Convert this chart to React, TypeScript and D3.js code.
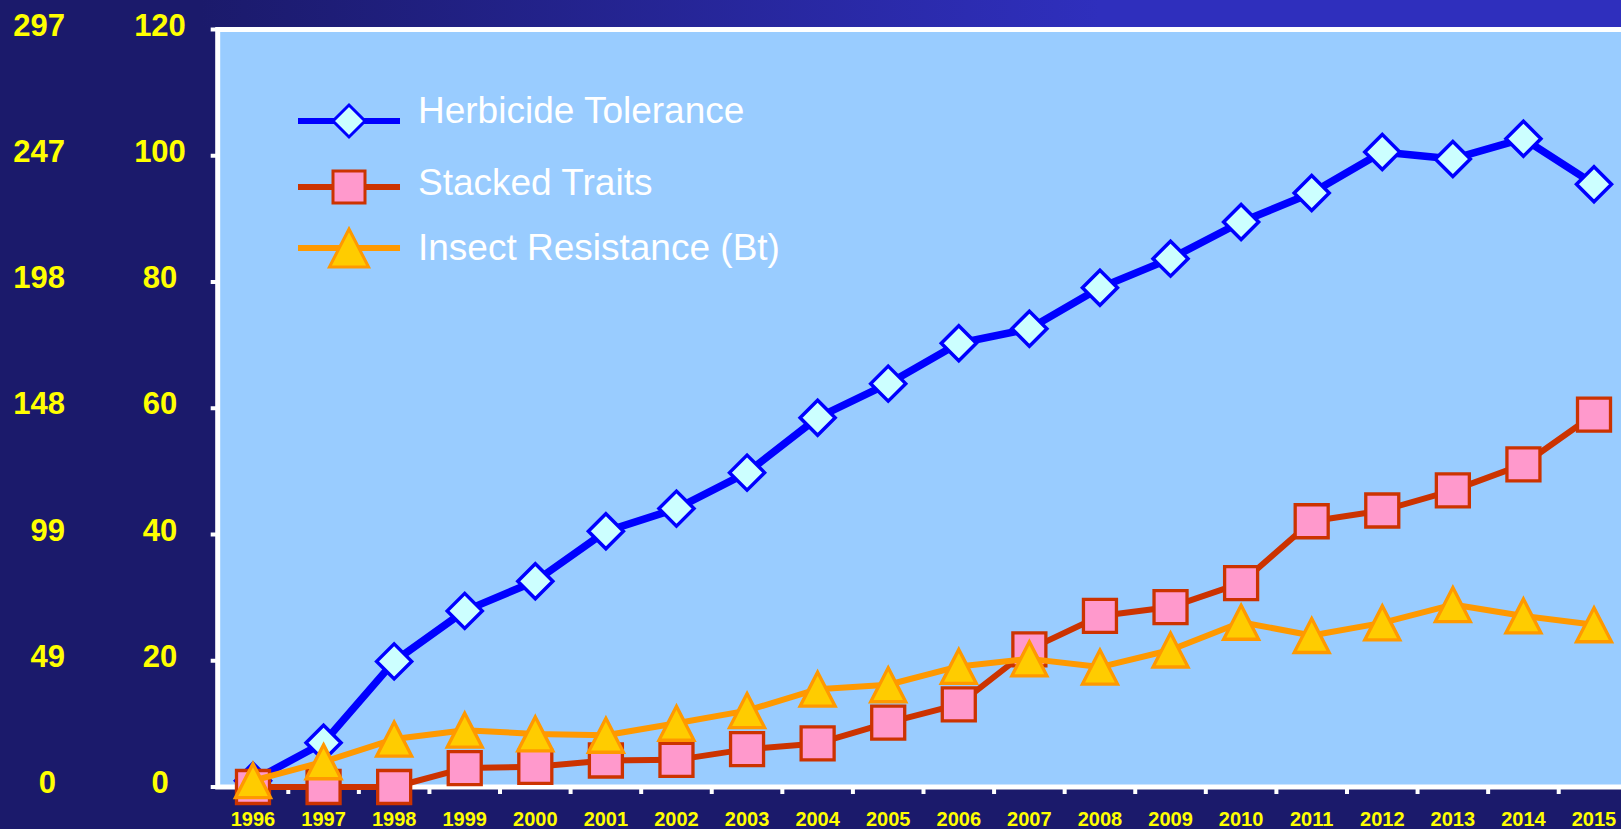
import React, { useEffect, useRef } from 'react';
import * as d3 from 'd3';

// years on the x axis
const years = ['1996', '1997', '1998', '1999', '2000', '2001', '2002', '2003', '2004', '2005',
  '2006', '2007', '2008', '2009', '2010', '2011', '2012', '2013', '2014', '2015'];

// million acres
const herbicideTolerance = [1.0, 7.0, 19.9, 27.9, 32.6, 40.5, 44.1, 49.8, 58.5, 63.9,
  70.3, 72.6, 79.1, 83.7, 89.5, 94.1, 100.6, 99.5, 102.7, 95.5];
const stackedTraits = [0, 0, 0, 3.0, 3.2, 4.2, 4.3, 6.0, 6.9, 10.2,
  13.1, 21.8, 27.1, 28.5, 32.3, 42.1, 43.8, 47.0, 51.1, 59.0];
const insectResistance = [1.0, 4.0, 7.6, 9.0, 8.4, 8.2, 10.1, 12.1, 15.5, 16.2,
  19.1, 20.3, 19.0, 21.7, 26.1, 24.0, 26.0, 28.9, 27.1, 25.7];

// two label columns: hectares (left) and acres (right)
const yTicks = [0, 20, 40, 60, 80, 100, 120];
const outerLabels = ['0', '49', '99', '148', '198', '247', '297'];

const seriesNames = ['Herbicide Tolerance', 'Stacked Traits', 'Insect Resistance (Bt)'];

const W = 1621;
const H = 829;
const FONT = '"Liberation Sans", Arial, sans-serif';

const markerPath = (kind: string, s: number) => {
  if (kind === 'diamond') return `M0,${-s}L${s},0L0,${s}L${-s},0Z`;
  if (kind === 'square') return `M${-s},${-s}H${s}V${s}H${-s}Z`;
  return `M0,${-s}L${s * 1.03},${s}L${-s * 1.03},${s}Z`;
};

const App = () => {
  const ref = useRef<SVGSVGElement>(null);

  useEffect(() => {
    const svg = d3.select(ref.current);
    svg.selectAll('*').remove();

    const x = d3.scaleBand().domain(years).range([217.7, 1629.3]);
    const y = d3.scaleLinear().domain([0, 120]).range([787, 29.5]);
    const cx = (d: string) => (x(d) as number) + x.bandwidth() / 2;

    // background
    const defs = svg.append('defs');
    const grad = defs.append('linearGradient')
      .attr('id', 'topband')
      .attr('gradientUnits', 'userSpaceOnUse')
      .attr('x1', 200).attr('x2', 1100).attr('y1', 0).attr('y2', 0);
    grad.append('stop').attr('offset', 0).attr('stop-color', '#1b1a6b');
    grad.append('stop').attr('offset', 1).attr('stop-color', '#2f2fbd');

    svg.append('rect').attr('width', W).attr('height', H).attr('fill', '#1b1a6b');
    svg.append('rect').attr('width', W).attr('height', 27).attr('fill', 'url(#topband)');

    // plot area
    svg.append('rect')
      .attr('x', x.range()[0])
      .attr('y', y(120))
      .attr('width', x.range()[1] - x.range()[0])
      .attr('height', y(0) - y(120))
      .attr('fill', '#99ccff')
      .attr('stroke', '#ffffff')
      .attr('stroke-width', 5);

    // y ticks
    svg.append('g')
      .selectAll('line')
      .data(yTicks)
      .join('line')
      .attr('x1', x.range()[0] - 7)
      .attr('x2', x.range()[0])
      .attr('y1', d => y(d))
      .attr('y2', d => y(d))
      .attr('stroke', '#ffffff')
      .attr('stroke-width', 4);

    // x ticks between categories
    svg.append('g')
      .selectAll('line')
      .data(years.slice(1))
      .join('line')
      .attr('x1', d => x(d) as number)
      .attr('x2', d => x(d) as number)
      .attr('y1', y(0))
      .attr('y2', y(0) + 7)
      .attr('stroke', '#ffffff')
      .attr('stroke-width', 4);

    // y labels
    const yl = svg.append('g')
      .style('font-family', FONT)
      .style('font-weight', 'bold')
      .style('font-size', '31px')
      .attr('fill', '#ffff00');
    yl.selectAll('.inner')
      .data(yTicks)
      .join('text')
      .attr('class', 'inner')
      .attr('x', 160)
      .attr('y', d => y(d) + 6)
      .attr('text-anchor', 'middle')
      .text(d => d);
    yl.selectAll('.outer')
      .data(outerLabels)
      .join('text')
      .attr('class', 'outer')
      .attr('x', d => (d.length === 1 ? 56 : 65))
      .attr('y', (d, i) => y(yTicks[i]) + 6)
      .attr('text-anchor', 'end')
      .text(d => d);

    // x labels
    svg.append('g')
      .selectAll('text')
      .data(years)
      .join('text')
      .attr('x', d => cx(d))
      .attr('y', 826)
      .attr('text-anchor', 'middle')
      .style('font-family', FONT)
      .style('font-weight', 'bold')
      .style('font-size', '20px')
      .attr('fill', '#ffff00')
      .text(d => d);

    const series = [
      { name: seriesNames[0], values: herbicideTolerance, line: '#0000ff', lw: 7.5, fill: '#ccffff', kind: 'diamond', size: 17.5 },
      { name: seriesNames[1], values: stackedTraits, line: '#cc3300', lw: 6, fill: '#ff99cc', kind: 'square', size: 16.5 },
      { name: seriesNames[2], values: insectResistance, line: '#ff9900', lw: 6, fill: '#ffcc00', kind: 'triangle', size: 17 },
    ];

    const line = d3.line<number>()
      .x((d, i) => cx(years[i]))
      .y(d => y(d));

    series.forEach(s => {
      const g = svg.append('g');
      g.append('path')
        .datum(s.values)
        .attr('fill', 'none')
        .attr('stroke', s.line)
        .attr('stroke-width', s.lw)
        .attr('stroke-linejoin', 'round')
        .attr('d', line);
      g.selectAll('path.m')
        .data(s.values)
        .join('path')
        .attr('class', 'm')
        .attr('transform', (d, i) => `translate(${cx(years[i])},${y(d)})`)
        .attr('d', markerPath(s.kind, s.size))
        .attr('fill', s.fill)
        .attr('stroke', s.line)
        .attr('stroke-width', s.kind === 'diamond' ? 3.5 : 3.3);
    });

    // legend
    const legendY = [121, 187, 248];
    const legendText = [123, 195, 260];
    const legend = svg.append('g');
    series.forEach((s, i) => {
      const row = legend.append('g');
      row.append('line')
        .attr('x1', 298).attr('x2', 400)
        .attr('y1', legendY[i]).attr('y2', legendY[i])
        .attr('stroke', s.line)
        .attr('stroke-width', 6);
      row.append('path')
        .attr('transform', `translate(349,${legendY[i]})`)
        .attr('d', markerPath(s.kind, s.kind === 'triangle' ? 19 : 16))
        .attr('fill', s.fill)
        .attr('stroke', s.line)
        .attr('stroke-width', 3);
      row.append('text')
        .attr('x', 418)
        .attr('y', legendText[i])
        .style('font-family', FONT)
        .style('font-size', '37px')
        .attr('fill', '#ffffff')
        .text(s.name);
    });
  }, []);

  return (
    <svg
      ref={ref}
      width={W}
      height={H}
      style={{ position: 'absolute', left: 0, top: 0, display: 'block' }}
    />
  );
};

export default App;
